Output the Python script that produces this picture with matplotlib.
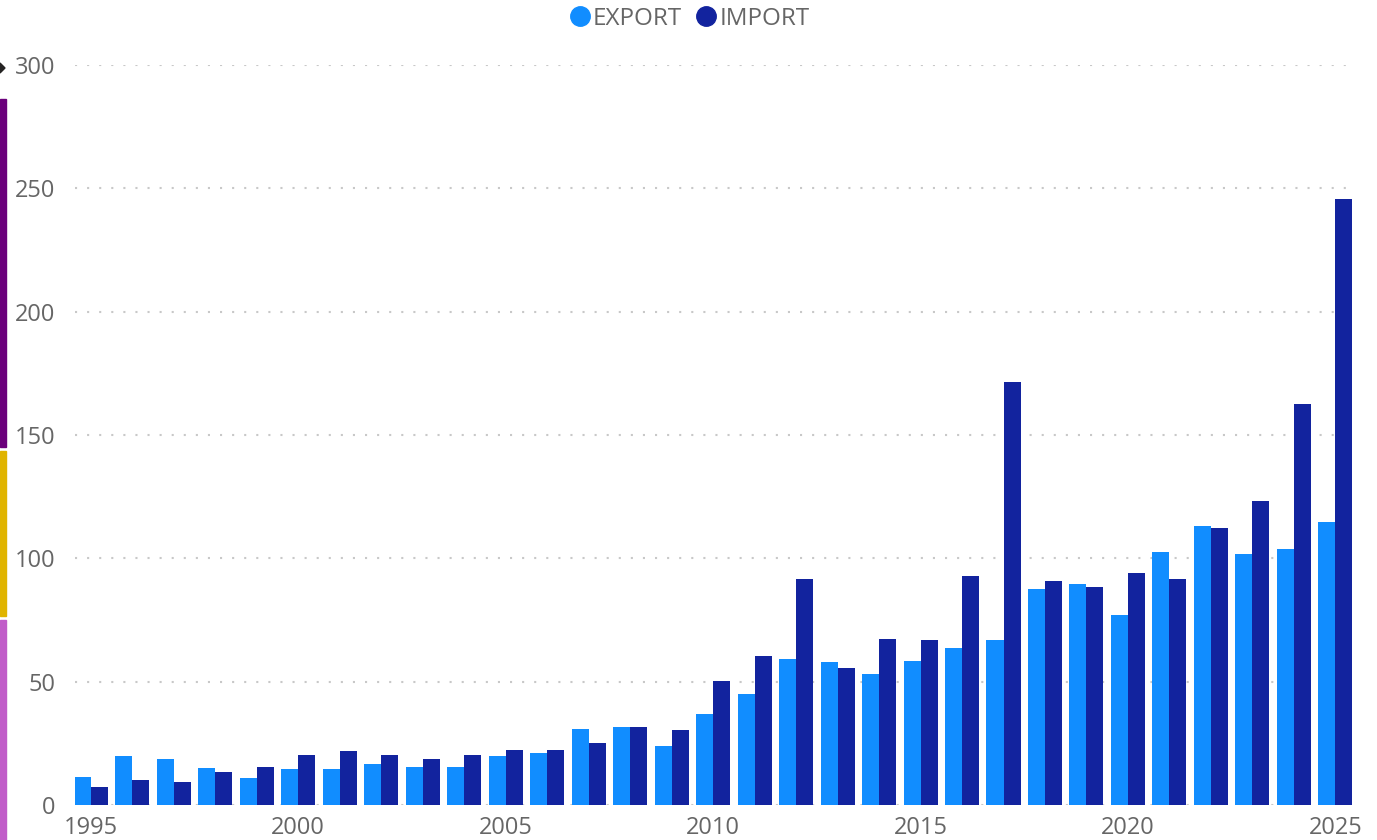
import matplotlib.pyplot as plt
from matplotlib.lines import Line2D
from matplotlib.patches import Rectangle, Polygon

# data
years = list(range(1995, 2026))
export = [11.4, 19.9, 18.6, 15.0, 11.0, 14.6, 14.6, 16.6, 15.4, 15.4,
          19.9, 21.1, 30.8, 31.6, 23.9, 36.9, 45.0, 59.2, 58.0, 53.1,
          58.4, 63.6, 66.9, 87.6, 89.6, 77.0, 102.6, 113.1, 101.8, 103.8, 114.7]
imports = [7.3, 10.1, 9.3, 13.4, 15.4, 20.3, 21.9, 20.3, 18.6, 20.3,
           22.3, 22.3, 25.1, 31.6, 30.4, 50.3, 60.4, 91.6, 55.5, 67.3,
           66.9, 92.8, 171.5, 90.8, 88.4, 94.1, 91.6, 112.3, 123.2, 162.6, 245.7]
xticks = [1995, 2000, 2005, 2010, 2015, 2020, 2025]
yticks = [0, 50, 100, 150, 200, 250, 300]

c_exp = '#118DFF'
c_imp = '#12239E'
grey = '#666666'

plt.rcParams['font.family'] = ['Open Sans', 'DejaVu Sans']

W, H = 1377, 840
fig = plt.figure(figsize=(W / 100, H / 100), dpi=100)
ax = fig.add_axes([75 / W, 1 - 805 / H, (1352 - 75) / W, (805 - 65) / H])

w = 0.41
ax.bar([y - w / 2 for y in years], export, width=w, color=c_exp, zorder=3)
ax.bar([y + w / 2 for y in years], imports, width=w, color=c_imp, zorder=3)

ax.set_xlim(1994.62, 2025.4)
ax.set_ylim(0, 300)
ax.set_xticks(xticks)
ax.set_yticks(yticks)
ax.tick_params(axis='both', length=0, labelsize=17, labelcolor=grey)
ax.tick_params(axis='y', pad=14)
ax.tick_params(axis='x', pad=8)
for s in ax.spines.values():
    s.set_visible(False)
ax.yaxis.grid(True, color='#C8C8C8', linewidth=1.5, dashes=(1, 4.8), zorder=0)
ax.set_axisbelow(True)

# legend
handles = [Line2D([], [], marker='o', linestyle='none', markersize=14, color=c_exp),
           Line2D([], [], marker='o', linestyle='none', markersize=14, color=c_imp)]
fig.legend(handles, ['EXPORT', 'IMPORT'], loc='center',
           bbox_to_anchor=(0.5 - 6 / W, 1 - 19 / H),
           ncol=2, frameon=False, fontsize=17.5, labelcolor=grey,
           handletextpad=-0.45, columnspacing=0.0, borderaxespad=0)

# colour strip on the left edge
strip = [(99, 447, '#6B007B'), (451, 616, '#E0B400'), (620, 840, '#C15DC9')]
for y0, y1, col in strip:
    fig.patches.append(Rectangle((0, 1 - y1 / H), 6 / W, (y1 - y0) / H,
                                 transform=fig.transFigure, color=col))
fig.patches.append(Polygon([(0, 1 - 63 / H), (5 / W, 1 - 68 / H), (0, 1 - 73 / H)],
                           closed=True, transform=fig.transFigure, color='#252423'))

fig.savefig('out.png', dpi=100)
